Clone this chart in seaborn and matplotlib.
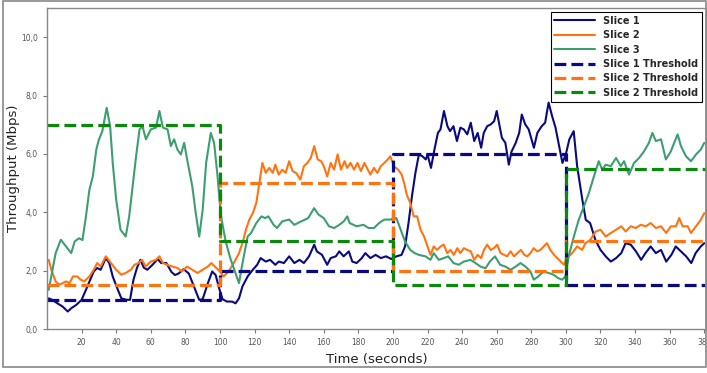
import numpy as np
import pandas as pd
import matplotlib
matplotlib.use("Agg")
import matplotlib.pyplot as plt
from matplotlib.ticker import FuncFormatter
from matplotlib.patches import Rectangle
import seaborn as sns

slice1_t = [1, 3, 6, 9, 12, 14, 17, 20, 22.5, 25, 27, 29, 31, 34, 36, 38, 41, 43, 46, 48, 50, 52, 54, 56, 58,
            61, 64, 66, 69, 72, 74, 76, 79, 82, 85, 88, 90, 93, 95.5, 97.5, 99.5, 101.5, 104, 107, 109, 111, 113,
            116, 119, 121.5, 123.5, 126.5, 129, 132, 134, 137, 140, 143, 146, 148.5, 151.5, 154.5, 156, 159, 162,
            164, 167, 169, 171.5, 174.5, 176.5, 179, 182, 184, 187, 190, 193, 196, 199, 202, 205, 207, 209, 211,
            213, 215, 217, 219, 220, 222, 224, 226, 227.5, 229.5, 231.5, 233, 235, 237, 239, 241, 243, 245, 247,
            249, 251, 252.5, 254.5, 256.5, 258.5, 260, 261.5, 263, 265, 267, 268.5, 271, 273, 274.5, 276.5, 278.5,
            281.5, 283.5, 286, 288, 290, 292, 294, 296, 298, 300, 302, 304.5, 306.5, 309.5, 311.5, 314, 317, 320,
            323, 326, 329, 332, 334.5, 337.5, 340.5, 343.5, 346, 349, 352, 355, 358, 361, 363.5, 366.5, 369.5,
            372.5, 375, 378, 380]
slice1_v = [1.05, 1.0, 0.88, 0.77, 0.6, 0.71, 0.83, 1.0, 1.34, 1.69, 1.97, 2.09, 2.03, 2.43, 2.26, 1.8, 1.34, 1.05,
            1.0, 1.0, 1.69, 2.09, 2.37, 2.1, 2.03, 2.2, 2.4, 2.26, 2.26, 1.95, 1.85, 1.9, 2.05, 1.9, 1.45, 1.0, 1.02,
            1.57, 1.97, 1.85, 1.4, 1.02, 0.94, 0.94, 0.88, 1.05, 1.46, 1.8, 2.03, 2.2, 2.43, 2.31, 2.37, 2.2, 2.31,
            2.26, 2.49, 2.26, 2.37, 2.26, 2.49, 2.89, 2.66, 2.54, 2.2, 2.43, 2.49, 2.66, 2.49, 2.66, 2.31, 2.26,
            2.43, 2.6, 2.43, 2.54, 2.43, 2.49, 2.4, 2.49, 2.54, 2.83, 3.63, 4.55, 5.35, 5.98, 5.92, 5.81, 5.98, 5.52,
            6.15, 6.72, 6.84, 7.47, 6.95, 6.78, 6.95, 6.44, 6.9, 6.84, 6.67, 7.07, 6.44, 6.72, 6.21, 6.72, 6.95,
            7.01, 7.12, 7.47, 7.01, 6.55, 6.38, 5.63, 6.07, 6.38, 6.72, 7.35, 7.01, 6.84, 6.21, 6.72, 6.95, 7.07,
            7.76, 7.3, 6.9, 6.3, 5.69, 6.0, 6.5, 6.78, 5.58, 4.43, 3.74, 3.63, 3.06, 2.71, 2.49, 2.31, 2.43, 2.6,
            2.94, 2.89, 2.66, 2.37, 2.6, 2.83, 2.6, 2.71, 2.31, 2.54, 2.83, 2.66, 2.49, 2.26, 2.6, 2.83, 2.94]

slice2_t = [1, 2.5, 5, 7, 9, 11, 13, 15, 17.5, 19.5, 21.5, 24.5, 27, 29, 31, 34, 37, 40, 43, 45.5, 48.5, 50.5, 53,
            55, 57, 60, 63, 65, 67, 69.5, 72.5, 75.5, 78, 81, 84, 87, 90, 93, 95, 97, 99.5, 102, 105, 108, 111, 113,
            115, 117, 119, 121, 122.5, 124.5, 126.5, 128.5, 130.5, 132, 134, 136, 138, 140, 142, 144, 146.5, 148.5,
            150.5, 152.5, 154.5, 156.5, 158.5, 160, 162, 164, 166, 168, 170, 172, 173.5, 175.5, 177.5, 179.5, 181.5,
            183.5, 185.5, 187, 189, 191, 193, 195, 197, 198.5, 200.5, 203, 205, 206.5, 208, 210, 212, 214, 216, 218,
            220, 221.7, 223.6, 225.6, 227.5, 229.4, 231.4, 233.3, 235.2, 237.2, 239, 241, 243, 245, 247, 249, 251,
            252.6, 254.5, 256.5, 258.4, 260.3, 262.2, 264.2, 266, 268, 270, 272, 274, 276, 277.6, 279.5, 281.4,
            283.4, 285.3, 287.2, 289, 291, 293, 295, 297, 299, 300.6, 303.6, 306.5, 309.4, 311.3, 314.2, 317.2, 320,
            323, 326, 329, 332, 334.6, 337.5, 340.4, 343.3, 346.2, 349, 352, 355, 358, 360.7, 363.6, 365.5, 367.5,
            370.4, 372.3, 375.2, 378, 380]
slice2_v = [2.37, 2.03, 1.63, 1.52, 1.57, 1.63, 1.57, 1.8, 1.8, 1.69, 1.63, 1.8, 2.03, 2.26, 2.14, 2.49, 2.26, 2.03,
            1.86, 1.92, 2.03, 2.2, 2.26, 2.37, 2.14, 2.31, 2.37, 2.49, 2.26, 2.2, 2.14, 2.09, 1.97, 2.14, 2.03, 1.92,
            2.03, 2.14, 2.26, 2.14, 2.0, 1.8, 1.97, 2.26, 2.6, 2.94, 3.4, 3.75, 3.97, 4.32, 4.89, 5.69, 5.35, 5.52,
            5.35, 5.63, 5.29, 5.46, 5.35, 5.75, 5.41, 5.35, 5.12, 5.58, 5.69, 5.86, 6.27, 5.81, 5.75, 5.58, 5.23,
            5.69, 5.46, 5.98, 5.46, 5.75, 5.52, 5.69, 5.46, 5.69, 5.41, 5.69, 5.46, 5.29, 5.52, 5.35, 5.58, 5.69,
            5.81, 5.92, 5.58, 5.46, 5.3, 5.0, 4.6, 4.32, 3.86, 3.86, 3.4, 3.17, 2.83, 2.54, 2.83, 2.71, 2.83, 2.89,
            2.6, 2.71, 2.54, 2.77, 2.6, 2.77, 2.71, 2.66, 2.37, 2.54, 2.43, 2.71, 2.89, 2.71, 2.77, 2.89, 2.6, 2.54,
            2.49, 2.66, 2.49, 2.6, 2.71, 2.54, 2.49, 2.6, 2.77, 2.66, 2.71, 2.83, 2.94, 2.71, 2.55, 2.43, 2.31, 2.2,
            2.43, 2.6, 2.83, 2.71, 2.94, 3.06, 3.34, 3.4, 3.17, 3.29, 3.4, 3.52, 3.34, 3.52, 3.46, 3.57, 3.52, 3.63,
            3.46, 3.52, 3.29, 3.52, 3.52, 3.8, 3.52, 3.52, 3.29, 3.52, 3.74, 3.97]

slice3_t = [1, 5, 8, 11, 14, 16, 18.5, 20.5, 22.5, 24.5, 26.5, 28.5, 30, 32, 34.5, 36.5, 38, 40, 42.5, 45.5, 47.5,
            49.5, 51.5, 53.5, 55.2, 57.2, 60, 63, 65, 67, 69.7, 71.6, 73.5, 75.4, 77.4, 79.3, 81.2, 84, 86, 88, 90,
            92, 94.7, 96.6, 98.5, 100.5, 103.3, 106, 111, 113, 116, 118, 121, 124, 126, 128, 131, 133, 136, 140,
            143, 147, 151, 154.4, 157, 160, 163, 166, 169, 171.6, 173.6, 175, 179, 183, 186, 189, 192, 195, 198.6,
            202, 204.5, 207, 210, 212.6, 215, 218.8, 221.7, 223.6, 226.5, 229.4, 232, 235, 238, 241, 244.8, 247.7,
            250.6, 253.5, 256, 259, 262, 265, 268, 271, 273.7, 276.6, 279.5, 281.4, 284, 287, 290, 292.8, 295.7,
            297.8, 299.7, 301.6, 304.6, 307.4, 310.4, 313.3, 316.2, 319, 321, 323, 326, 329, 331.7, 333.6, 336.5,
            339.4, 342.3, 345.2, 348, 350, 352, 355, 357.8, 360.7, 362.6, 364.6, 366.5, 369.4, 372.3, 375.2, 378, 380]
slice3_v = [1.34, 2.6, 3.06, 2.83, 2.6, 3.0, 3.11, 3.05, 3.85, 4.77, 5.23, 6.15, 6.49, 6.78, 7.58, 6.95, 5.69, 4.43,
            3.4, 3.17, 3.85, 4.89, 5.92, 6.84, 6.95, 6.5, 6.84, 6.9, 7.47, 6.9, 6.84, 6.27, 6.5, 6.15, 5.98, 6.38,
            5.75, 4.89, 3.97, 3.17, 4.08, 5.69, 6.72, 6.38, 5.3, 3.9, 3.0, 2.42, 1.57, 2.25, 3.17, 3.29, 3.63, 3.86,
            3.8, 3.86, 3.57, 3.46, 3.69, 3.75, 3.57, 3.69, 3.8, 4.14, 3.92, 3.8, 3.52, 3.46, 3.57, 3.69, 3.86, 3.63,
            3.52, 3.57, 3.46, 3.46, 3.63, 3.75, 3.75, 3.8, 3.4, 3.0, 2.71, 2.6, 2.54, 2.49, 2.37, 2.6, 2.37, 2.43,
            2.49, 2.26, 2.2, 2.31, 2.37, 2.26, 2.14, 2.08, 2.31, 2.49, 2.2, 2.14, 2.03, 2.14, 2.26, 2.14, 1.97, 1.69,
            1.8, 1.97, 1.92, 1.86, 1.74, 1.69, 1.8, 2.49, 3.17, 3.74, 4.2, 4.66, 5.23, 5.75, 5.46, 5.63, 5.58, 5.86,
            5.58, 5.75, 5.29, 5.69, 5.86, 6.09, 6.38, 6.72, 6.44, 6.5, 5.81, 6.09, 6.38, 6.67, 6.27, 5.92, 5.75,
            5.98, 6.15, 6.38]

# threshold steps (value holds from each start time until the next)
thr_t = [0, 100, 200, 300, 381]
thr1 = [1.0, 2.0, 6.0, 1.5, 1.5]
thr2 = [1.5, 5.0, 2.0, 3.0, 3.0]
thr3 = [7.0, 3.0, 1.5, 5.5, 5.5]

navy = "#0a0a80"
orange = "#ff7410"
green = "#3d9e72"
dgreen = "#0a8a0a"

sns.set_theme(style="ticks")
plt.rcParams['font.family'] = ['DejaVu Sans']

fig = plt.figure(figsize=(7.07, 3.73), dpi=100)
ax = fig.add_axes([47 / 707, 1 - 329 / 373, 659 / 707, 321 / 373])

sns.lineplot(x=slice1_t, y=slice1_v, ax=ax, color=navy, linewidth=1.5, label="Slice 1")
sns.lineplot(x=slice2_t, y=slice2_v, ax=ax, color=orange, linewidth=1.5, label="Slice 2")
sns.lineplot(x=slice3_t, y=slice3_v, ax=ax, color=green, linewidth=1.5, label="Slice 3")
sns.lineplot(x=thr_t, y=thr1, ax=ax, color=navy, linewidth=2.3, linestyle="--",
             drawstyle="steps-post", label="Slice 1 Threshold")
sns.lineplot(x=thr_t, y=thr2, ax=ax, color=orange, linewidth=2.3, linestyle="--",
             drawstyle="steps-post", label="Slice 2 Threshold")
sns.lineplot(x=thr_t, y=thr3, ax=ax, color=dgreen, linewidth=2.3, linestyle="--",
             drawstyle="steps-post", label="Slice 2 Threshold")

ax.set_xlim(0, 381)
ax.set_ylim(0, 11)
ax.set_xticks(np.arange(20, 381, 20))
ax.set_yticks(np.arange(0, 11, 2))
ax.yaxis.set_major_formatter(FuncFormatter(lambda v, p: f"{v:.1f}".replace(".", ",")))
ax.tick_params(axis="both", labelsize=5.5, labelcolor="#555555", color="#777777", length=3, width=0.8)
for s in ax.spines.values():
    s.set_color("#888888")
    s.set_linewidth(1)

ax.set_xlabel("Time (seconds)", fontsize=9.5, color="#222222")
ax.set_ylabel("Throughput (Mbps)", fontsize=9.5, color="#222222", labelpad=1)

handles, labels = ax.get_legend_handles_labels()
leg = ax.legend(handles, labels, loc="upper right", prop={"weight": "bold", "size": 7},
                frameon=True, fancybox=False, edgecolor="black", framealpha=1,
                handlelength=4.2, labelspacing=0.45, borderpad=0.4, borderaxespad=0.4)
leg.get_frame().set_linewidth(0.8)

# outer frame around the whole figure
fig.patches.append(Rectangle((3 / 707, 6 / 373), 703 / 707, 366 / 373, transform=fig.transFigure,
                             fill=False, edgecolor="#888888", linewidth=1.2))

fig.savefig("out.png", dpi=100)
